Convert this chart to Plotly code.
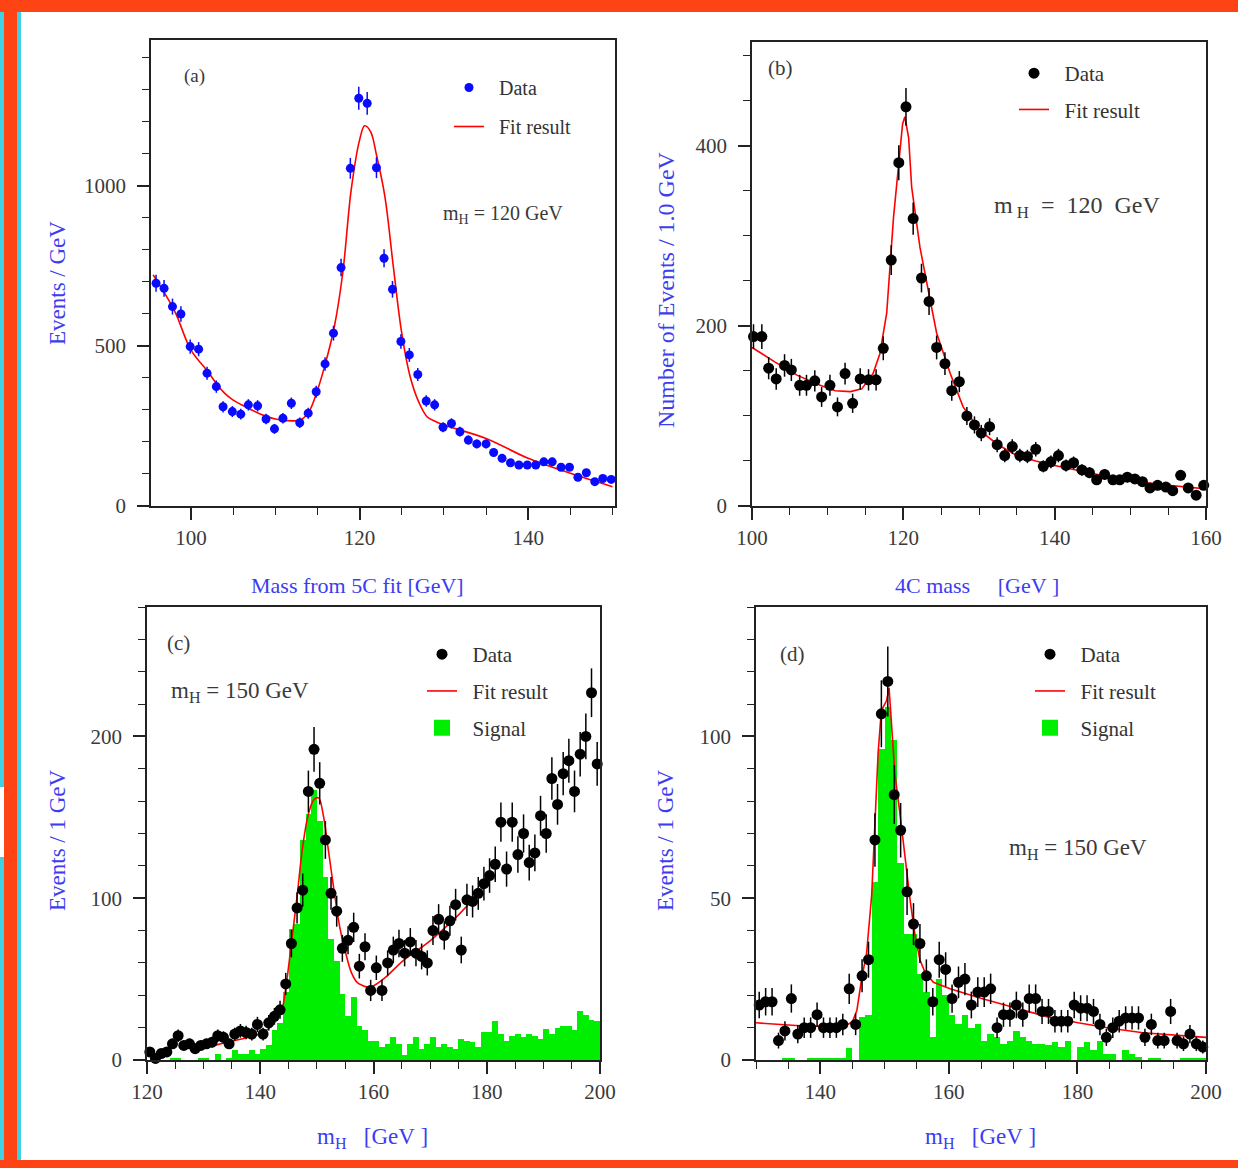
import plotly.graph_objects as go

W, H = 1238, 1168

# ---------------- Panel (a) ----------------
a_mass = [95.85, 96.8, 97.8, 98.8, 99.9, 100.9, 101.9, 103.0, 103.8, 104.9, 105.9, 106.8, 107.9, 108.9,
          109.9, 110.9, 111.9, 112.9, 113.9, 114.85, 115.9, 116.9, 117.8, 118.9, 119.9, 120.9, 122.0,
          122.9, 123.9, 124.9, 125.9, 126.9, 127.9, 128.9, 129.9, 130.9, 131.9, 132.9, 133.9, 135.0,
          135.9, 136.9, 137.9, 138.9, 139.9, 140.9, 141.85, 142.85, 143.9, 144.9, 145.9, 146.9, 147.9,
          148.85, 149.85]
a_events = [696, 680, 623, 600, 498, 490, 415, 373, 310, 295, 287, 316, 313, 272, 241, 274, 321, 260, 290,
            357, 444, 540, 745, 1055, 1274, 1258, 1057, 774, 677, 514, 472, 411, 328, 316, 246, 258, 232,
            206, 194, 194, 167, 149, 135, 128, 128, 128, 138, 138, 121, 121, 90, 104, 76, 86, 83]
a_fit_x = [95.5, 98, 100, 102, 103, 104, 105, 106, 108, 110, 112, 113, 114, 115, 116, 117, 118, 119, 120,
           120.6, 121.3, 122, 123, 124, 125, 126, 127, 128, 129, 130, 135, 140, 145, 150]
a_fit_y = [722, 612, 487, 420, 383, 352, 331, 316, 290, 272, 266, 269, 295, 362, 451, 560, 728, 988, 1144,
           1188, 1170, 1097, 967, 748, 540, 404, 326, 279, 264, 253, 211, 149, 102, 60]

# ---------------- Panel (b) ----------------
b_mass = [100.2, 101.3, 102.2, 103.2, 104.3, 105.2, 106.3, 107.2, 108.3, 109.2, 110.3, 111.3, 112.3, 113.3,
          114.3, 115.4, 116.4, 117.35, 118.4, 119.4, 120.35, 121.3, 122.4, 123.4, 124.4, 125.5, 126.4,
          127.4, 128.4, 129.4, 130.3, 131.4, 132.4, 133.4, 134.4, 135.4, 136.4, 137.5, 138.5, 139.5,
          140.5, 141.5, 142.5, 143.6, 144.6, 145.55, 146.6, 147.7, 148.6, 149.6, 150.6, 151.6, 152.6,
          153.6, 154.7, 155.6, 156.65, 157.65, 158.7, 159.7]
b_events = [188, 188, 153, 141, 156, 151, 134, 134, 139, 121, 134, 110, 147, 114, 141, 140, 140, 175, 273,
            381, 443, 319, 253, 227, 176, 158, 128, 138, 100, 90, 81, 88, 68, 56, 66, 56, 55, 63, 44, 49,
            56, 45, 48, 40, 37, 29, 35, 29, 29, 32, 30, 27, 20, 23, 21, 17, 34, 20, 12, 23]
b_fit_x = [100, 103, 106, 109, 111, 113, 114.5, 116.0, 116.9, 117.8, 118.7, 119.3, 119.9, 120.2, 120.7,
           121.1, 122.2, 123.3, 124.4, 126.2, 127.9, 130.1, 132.5, 135, 137.5, 140, 145, 150, 155, 160]
b_fit_y = [176, 160, 145, 134, 128, 127, 130, 147, 169, 214, 320, 372, 424, 432, 409, 354, 287, 239, 192,
           147, 110, 84, 68, 56, 50, 45, 36, 28, 23, 19]

# ---------------- Panel (c) ----------------
c_mass = [120.5, 121.5, 122.5, 123.5, 124.5, 125.5, 126.5, 127.5, 128.5, 129.5, 130.5, 131.5, 132.5, 133.5,
          134.5, 135.5, 136.5, 137.5, 138.5, 139.5, 140.5, 141.5, 142.5, 143.5, 144.5, 145.5, 146.5,
          147.5, 148.5, 149.5, 150.5, 151.5, 152.5, 153.5, 154.5, 155.5, 156.5, 157.5, 158.5, 159.5,
          160.5, 161.5, 162.5, 163.5, 164.5, 165.5, 166.5, 167.5, 168.5, 169.5, 170.5, 171.5, 172.5,
          173.5, 174.5, 175.5, 176.5, 177.5, 178.5, 179.5, 180.5, 181.5, 182.5, 183.5, 184.5, 185.5,
          186.5, 187.5, 188.5, 189.5, 190.5, 191.5, 192.5, 193.5, 194.5, 195.5, 196.5, 197.5, 198.5, 199.5]
c_events = [5, 1, 4, 5, 10, 15, 9, 10, 7, 9, 10, 11, 15, 14, 10, 16, 18, 17, 16, 22, 16, 23, 27, 31, 47,
            72, 94, 105, 166, 192, 171, 136, 103, 92, 69, 74, 82, 58, 70, 43, 57, 43, 60, 68, 72, 66, 73,
            66, 64, 60, 80, 87, 77, 86, 96, 68, 99, 98, 103, 109, 114, 121, 147, 118, 147, 127, 140, 122,
            128, 151, 140, 174, 158, 177, 185, 166, 189, 200, 227, 183]
c_signal = [0, 0, 0, 0, 1, 1, 0, 0, 0, 1, 1, 0, 4, 0, 1, 6, 4, 4, 6, 4, 7, 9, 18.5, 23, 42, 81, 84, 136,
            152, 167, 148, 113, 75, 61, 41, 27, 39, 21, 18.5, 12, 12, 8, 10, 14, 10, 3, 10, 14, 7, 10, 14,
            8, 10, 8, 7, 13, 12, 11, 8, 17.5, 17.5, 24, 16, 12, 15, 16, 14, 16, 15, 13, 19, 16, 19.5, 21,
            21, 18.5, 30, 28, 25, 24]
c_fit_x = [129.5, 130.5, 135.5, 140.5, 142.5, 143.8, 144.6, 145.5, 146.5, 147.5, 148.5, 149.5, 150.3,
           151.1, 152.1, 153.1, 154.1, 155.1, 156.1, 157.1, 158.1, 159.1, 160.1, 162.1, 165.1, 170.1,
           175.1, 177.5, 180.1, 180.6]
c_fit_y = [7, 8, 12, 17, 23, 31, 47, 72, 101, 132, 152, 161, 162, 152, 128, 103, 81, 66, 54, 48, 46, 45,
           46, 51, 61, 74, 90, 99, 110, 113]

# ---------------- Panel (d) ----------------
d_mass = [130.5, 131.5, 132.5, 133.5, 134.5, 135.5, 136.5, 137.5, 138.5, 139.5, 140.5, 141.5, 142.5, 143.5,
          144.5, 145.5, 146.5, 147.5, 148.5, 149.5, 150.5, 151.5, 152.5, 153.5, 154.5, 155.5, 156.5,
          157.5, 158.5, 159.5, 160.5, 161.5, 162.5, 163.5, 164.5, 165.5, 166.5, 167.5, 168.5, 169.5,
          170.5, 171.5, 172.5, 173.5, 174.5, 175.5, 176.5, 177.5, 178.5, 179.5, 180.5, 181.5, 182.5,
          183.5, 184.5, 185.5, 186.5, 187.5, 188.5, 189.5, 190.5, 191.5, 192.5, 193.5, 194.5, 195.5,
          196.5, 197.5, 198.5, 199.5]
d_events = [17, 18, 18, 6, 9, 19, 8, 10, 10, 14, 10, 10, 10, 11, 22, 11, 26, 31, 68, 107, 117, 82, 71, 52,
            42, 36, 26, 18, 31, 28, 19, 24, 25, 17, 21, 21, 22, 10, 14, 14, 17, 14, 19, 19, 15, 15, 12, 12,
            12, 17, 16, 16, 15, 11, 7, 10, 12, 13, 13, 13, 7, 11, 6, 6, 15, 6, 5, 8, 5, 4]
d_signal = [0, 0, 0, 0, 0.5, 0.5, 0, 0, 0.5, 0.5, 0.5, 0.5, 0.5, 0.5, 3.6, 0, 13.4, 13.9, 55, 96, 109, 99,
            61, 39, 39, 26.7, 21, 7, 25, 20, 14, 11, 14, 10, 11, 6, 8, 7, 5, 6, 9, 7, 6, 5, 5, 4.5, 5.5, 4,
            6, 0, 4, 5.5, 3, 6, 2, 2, 0, 3, 2, 1, 0, 0.5, 0.5, 0, 0, 0, 0.5, 0.5, 0.5, 0.5]
d_fit_x = [130, 133.5, 137.4, 142, 144.1, 145, 145.7, 146.4, 147.2, 148, 148.5, 149, 149.5, 150.3, 150.7,
           151.2, 151.6, 152.4, 153.2, 154, 154.7, 155.5, 156.3, 157.6, 160.2, 165.1, 170, 175.2, 180.1,
           185.1, 190.2, 195.2, 200]
d_fit_y = [11.5, 11, 10.5, 10.3, 10.8, 11.8, 15.4, 24.7, 33, 51, 72, 95, 108, 111, 115, 101, 88.5, 76, 62,
           49, 39, 31, 27, 24, 22, 19, 16.3, 13.4, 11.5, 9.8, 8.4, 7.7, 7]

SERIF = "Liberation Serif"
BLUE_T = "#3c3cf0"
RED = "#ff0000"
GREEN = "#00ee00"
DBLUE = "#0a0aff"
NB = "\u00a0"


def px(x):
    return x / W


def py(y):
    return 1 - y / H


fig = go.Figure()


def data_trace(x, y, xa, ya, lg, color, size):
    return go.Scatter(x=x, y=y, mode="markers", name=NB * 2 + "Data", xaxis=xa, yaxis=ya,
                      marker=dict(color=color, size=size, symbol="circle"),
                      error_y=dict(type="sqrt", color=color, thickness=1.5, width=0),
                      cliponaxis=False, legend=lg, legendgroup=lg + "1", legendrank=1)


def fit_trace(x, y, xa, ya, lg, shape):
    return go.Scatter(x=x, y=y, mode="lines", line=dict(color=RED, width=1.6, shape=shape),
                      name=NB * 2 + "Fit result", xaxis=xa, yaxis=ya, legend=lg, legendgroup=lg + "2",
                      legendrank=2)


def signal_traces(x, y, xa, ya, lg):
    bar = go.Bar(x=x, y=y, width=1.0, marker=dict(color=GREEN, line=dict(width=0)), name="Signal",
                 xaxis=xa, yaxis=ya, showlegend=False, legendgroup=lg + "3")
    key = go.Scatter(x=[None], y=[None], mode="markers", name=NB * 2 + "Signal", xaxis=xa, yaxis=ya,
                     marker=dict(color=GREEN, size=24, symbol="square"), legend=lg,
                     legendgroup=lg + "3", legendrank=3)
    return [bar, key]


fig.add_trace(fit_trace(a_fit_x, a_fit_y, "x", "y", "legend", "spline"))
fig.add_trace(data_trace(a_mass, a_events, "x", "y", "legend", DBLUE, 9))

fig.add_trace(fit_trace(b_fit_x, b_fit_y, "x2", "y2", "legend2", "linear"))
fig.add_trace(data_trace(b_mass, b_events, "x2", "y2", "legend2", "black", 11))

for t in signal_traces(c_mass, c_signal, "x3", "y3", "legend3"):
    fig.add_trace(t)
fig.add_trace(fit_trace(c_fit_x, c_fit_y, "x3", "y3", "legend3", "spline"))
fig.add_trace(data_trace(c_mass, c_events, "x3", "y3", "legend3", "black", 11))

for t in signal_traces(d_mass, d_signal, "x4", "y4", "legend4"):
    fig.add_trace(t)
fig.add_trace(fit_trace(d_fit_x, d_fit_y, "x4", "y4", "legend4", "linear"))
fig.add_trace(data_trace(d_mass, d_events, "x4", "y4", "legend4", "black", 11))


def xax(domain, anchor, rng, dtick, minor):
    return dict(domain=domain, anchor=anchor, range=rng, dtick=dtick, tick0=0, showgrid=False, zeroline=False,
                automargin=False, showline=True, linecolor="#222", linewidth=1.5, mirror=True,
                ticks="outside", ticklen=12, tickwidth=1.5, tickcolor="#222", ticklabelstandoff=0,
                tickfont=dict(family=SERIF, size=21, color="#3a3a3a"),
                minor=dict(dtick=minor, tick0=0, ticks="outside", ticklen=7, tickwidth=1.3, tickcolor="#222"))


def yax(domain, anchor, rng, dtick, minor):
    d = xax(domain, anchor, rng, dtick, minor)
    d["ticklabelstandoff"] = 7
    return d


ya = [py(506), py(40)]
yb = [py(506), py(42)]
ycd = [py(1060), py(607)]

layout = dict(
    template="none",
    width=W, height=H, autosize=False, margin=dict(l=0, r=0, t=0, b=0, pad=0, autoexpand=False),
    paper_bgcolor="white", plot_bgcolor="white",
    showlegend=True, barmode="overlay", bargap=0,
    xaxis=xax([px(151), px(615)], "y", [95.25, 150.3], 20, 5),
    yaxis=yax(ya, "x", [0, 1456], 500, 100),
    xaxis2=xax([px(752), px(1206)], "y2", [100, 160], 20, 5),
    yaxis2=yax(yb, "x2", [0, 515], 200, 50),
    xaxis3=xax([px(147), px(600)], "y3", [120, 200], 20, 5),
    yaxis3=yax(ycd, "x3", [0, 280], 100, 20),
    xaxis4=xax([px(756), px(1206)], "y4", [130, 200], 20, 5),
    yaxis4=yax(ycd, "x4", [0, 140], 50, 10),
)


def leg(xp, yp, size, gap):
    return dict(x=px(xp), y=py(yp), xanchor="left", yanchor="top", bgcolor="rgba(0,0,0,0)", borderwidth=0,
                font=dict(family=SERIF, size=size, color="#333"), itemwidth=30, tracegroupgap=gap,
                traceorder="grouped")


layout["legend"] = leg(449, 68, 20, 10)
layout["legend2"] = leg(1014, 53, 21, 6)
layout["legend3"] = leg(422, 634, 21, 6.5)
layout["legend4"] = leg(1030, 634, 21, 6.5)

fig.update_layout(**layout)

# ---- text annotations
ann = []


def text(x, y, s, size, color="#3a3a3a", angle=0, xanchor="center"):
    ann.append(dict(x=px(x), y=py(y), xref="paper", yref="paper", text=s, showarrow=False, textangle=angle,
                    xanchor=xanchor, yanchor="middle", font=dict(family=SERIF, size=size, color=color)))


text(194, 76, "(a)", 19)
text(780, 68, "(b)", 21)
text(178, 643, "(c)", 21)
text(792, 654, "(d)", 21)
text(503, 214, "m<sub>H</sub> = 120 GeV", 20)
text(1077, 207, "m<sub>" + NB + "H</sub>" + NB * 2 + "=" + NB * 2 + "120" + NB * 2 + "GeV", 24)
text(240, 692, "m<sub>H</sub> = 150 GeV", 23)
text(1078, 849, "m<sub>H</sub> = 150 GeV", 23)

# axis titles
text(57, 283, "Events / GeV", 23, BLUE_T, -90)
text(666, 289, "Number of Events / 1.0 GeV", 24, BLUE_T, -90)
text(57, 840, "Events / 1 GeV", 23, BLUE_T, -90)
text(665, 840, "Events / 1 GeV", 23, BLUE_T, -90)
text(357, 585, "Mass from 5C fit [GeV]", 22, BLUE_T)
text(977, 585, "4C mass" + NB * 5 + "[GeV" + NB + "]", 22, BLUE_T)
text(372, 1138, "m<sub>H</sub>" + NB * 3 + "[GeV" + NB + "]", 23, BLUE_T)
text(980, 1138, "m<sub>H</sub>" + NB * 3 + "[GeV" + NB + "]", 23, BLUE_T)

fig.update_layout(annotations=ann)

# ---- page frame
ORANGE = "#fe4415"
CYAN = "#40d0e4"
shapes = []


def rect(x0, y0, x1, y1, color):
    shapes.append(dict(type="rect", xref="paper", yref="paper", x0=px(x0), x1=px(x1), y0=py(y1), y1=py(y0),
                       fillcolor=color, line=dict(width=0), layer="above"))


rect(0, 0, 4, 1160, CYAN)
rect(0, 787, 4, 857, "white")
rect(17, 12, 21, 1160, CYAN)
rect(4, 0, 17, 1168, ORANGE)
rect(0, 0, W, 12, ORANGE)
rect(0, 1160, W, 1168, ORANGE)
fig.update_layout(shapes=shapes)

fig.write_html("out.html", config={"displayModeBar": False},
               post_script="document.body.style.margin='0';document.body.style.overflow='hidden';")
